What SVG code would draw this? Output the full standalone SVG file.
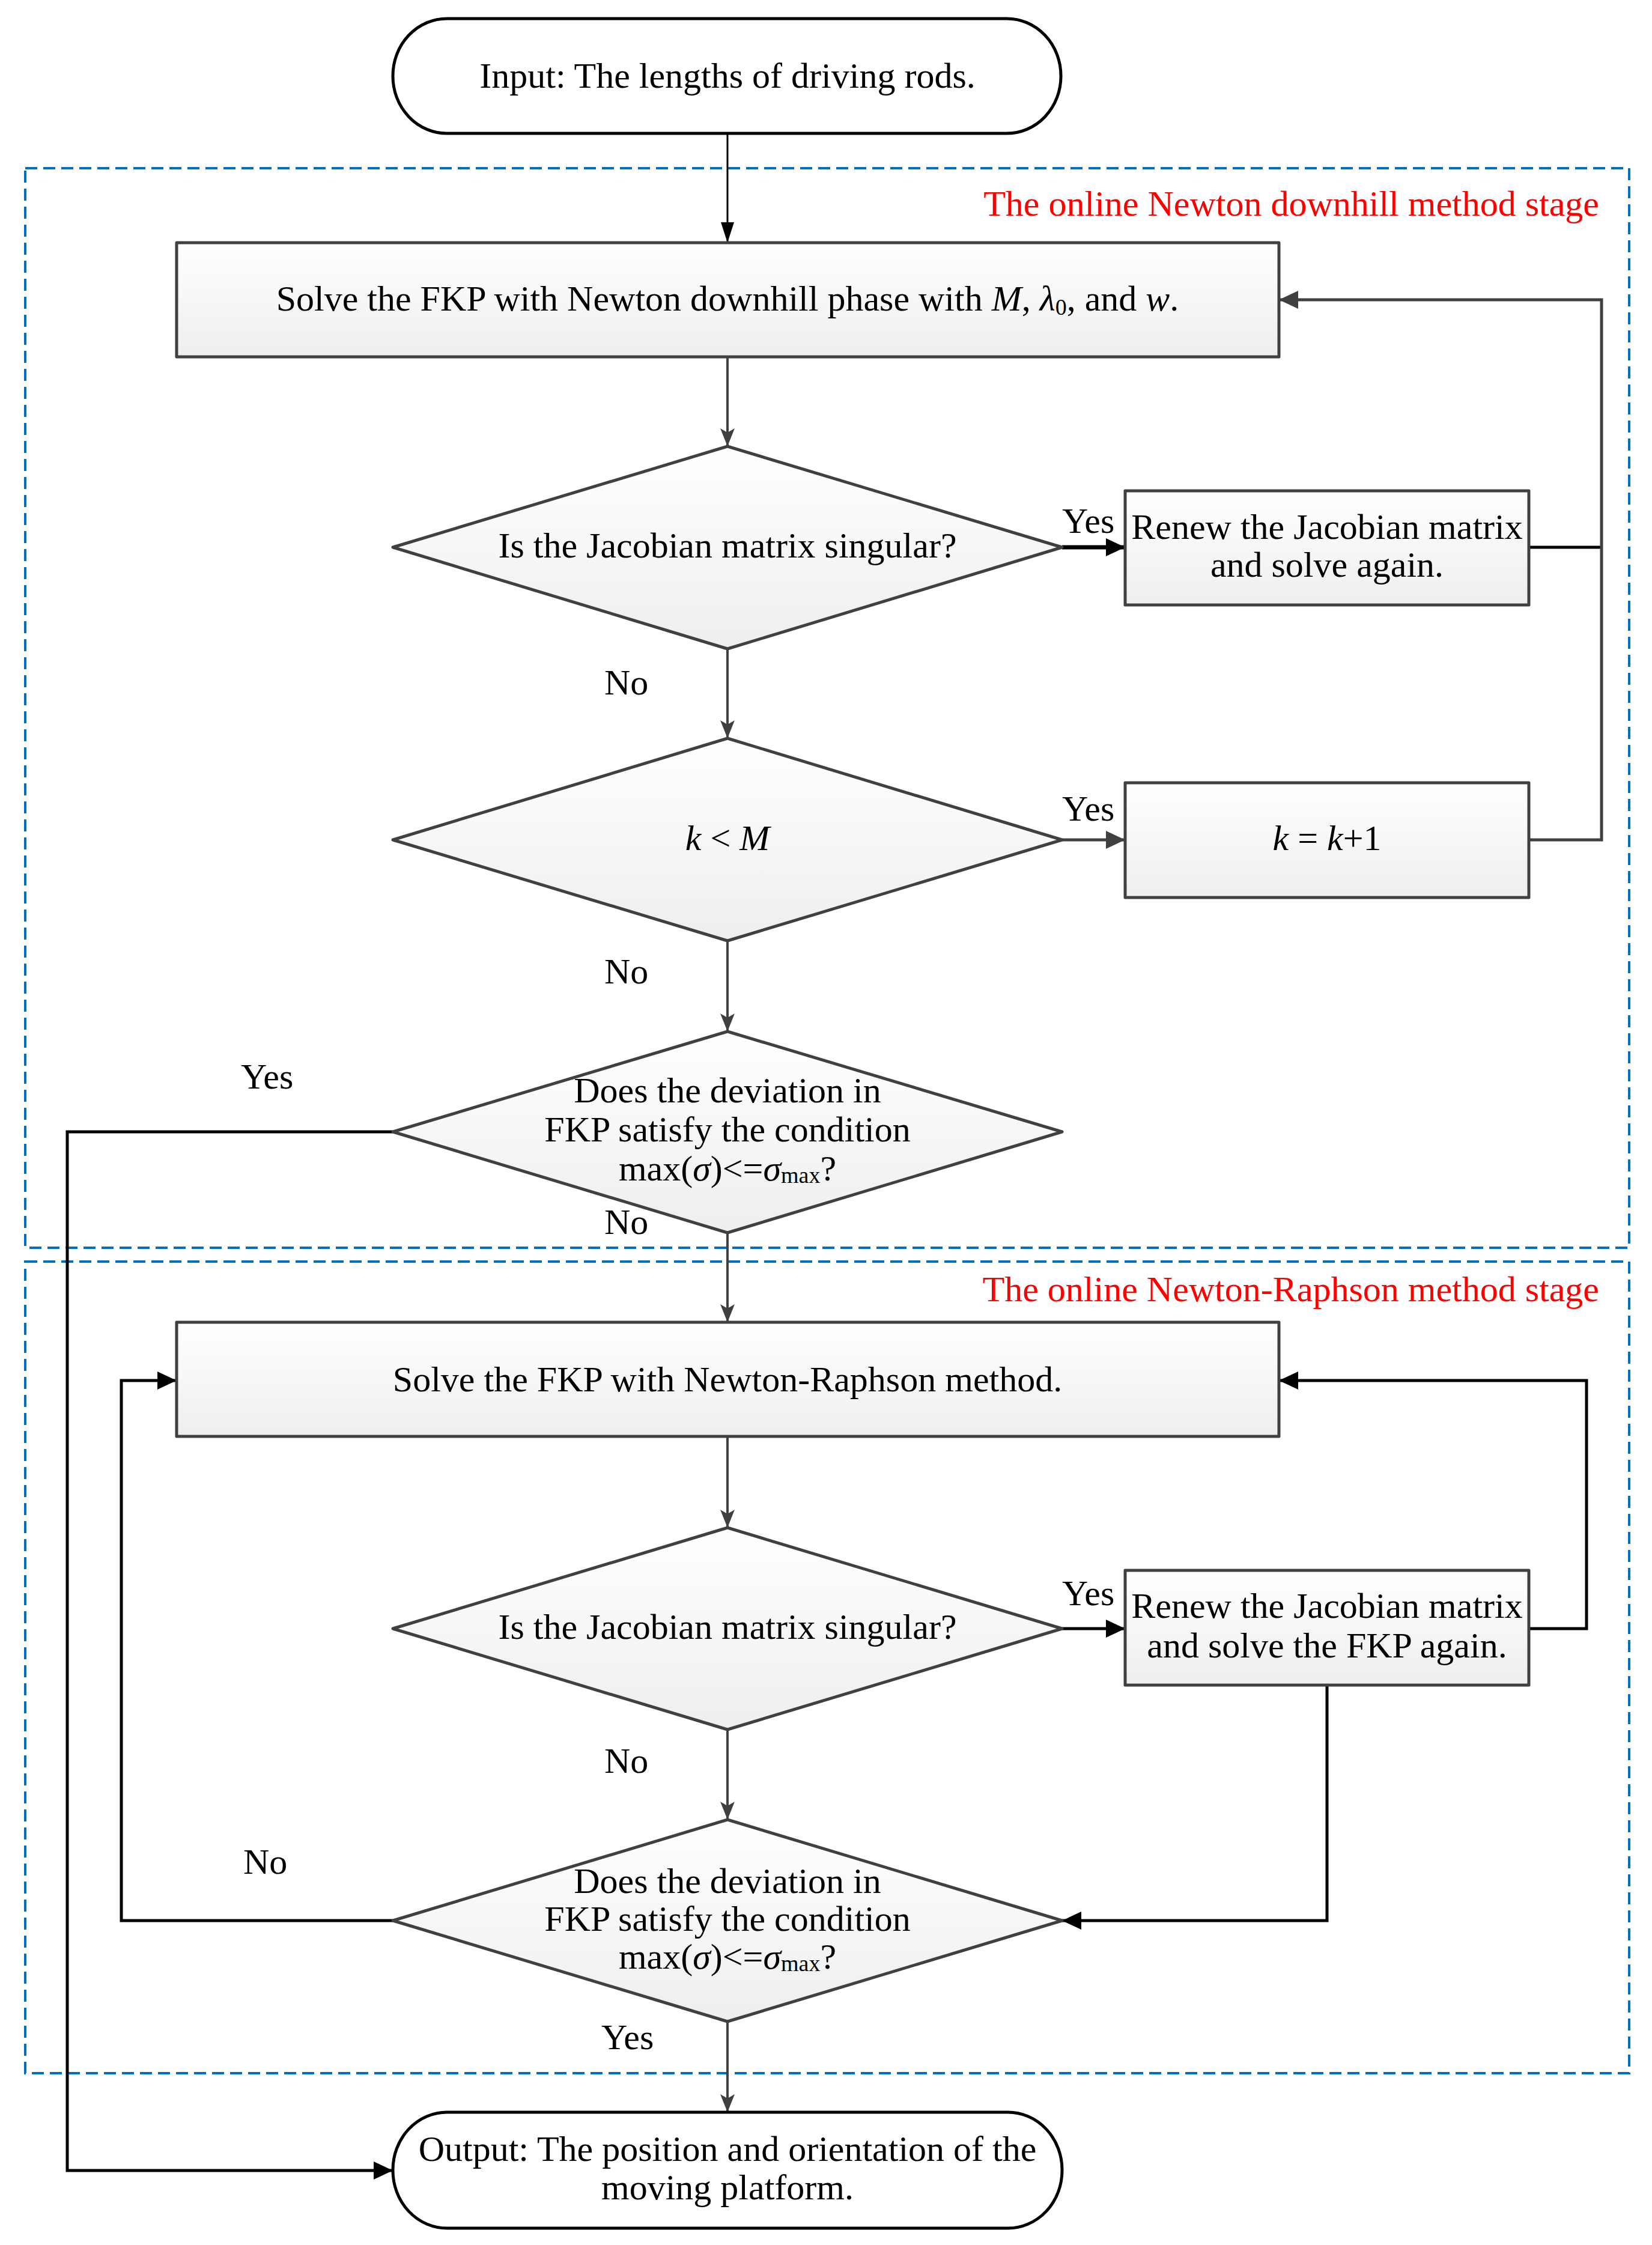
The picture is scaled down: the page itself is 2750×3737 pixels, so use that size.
<svg xmlns="http://www.w3.org/2000/svg" width="2750" height="3737" viewBox="0 0 2750 3737">
<defs>
  <linearGradient id="fillGrad" x1="0" y1="0" x2="0" y2="1">
    <stop offset="0" stop-color="#ffffff"/>
    <stop offset="1" stop-color="#eeeeee"/>
  </linearGradient>
  <marker id="arrGray" markerUnits="userSpaceOnUse" markerWidth="32" markerHeight="26" refX="30" refY="12" orient="auto">
    <path d="M0,0 L30,12 L0,24 L7,12 Z" fill="#404040"/>
  </marker>
  <marker id="arrGrayFill" markerUnits="userSpaceOnUse" markerWidth="34" markerHeight="32" refX="32" refY="15" orient="auto">
    <path d="M0,0 L32,15 L0,30 Z" fill="#404040"/>
  </marker>
  <marker id="arrBlack" markerUnits="userSpaceOnUse" markerWidth="34" markerHeight="32" refX="32" refY="15" orient="auto">
    <path d="M0,0 L32,15 L0,30 Z" fill="#000000"/>
  </marker>
  <marker id="arrInput" markerUnits="userSpaceOnUse" markerWidth="36" markerHeight="24" refX="34" refY="11" orient="auto">
    <path d="M0,0 L34,11 L0,22 Z" fill="#000000"/>
  </marker>
  <style>
    text { font-family: "Liberation Serif", "Times New Roman", serif; font-size: 60px; fill: #000; }
    .mid { text-anchor: middle; }
    .red { fill: #ff0000; text-anchor: end; }
    .it { font-style: italic; }
    .sub { font-size: 38px; }
    .node { fill: url(#fillGrad); stroke: #404040; stroke-width: 5; stroke-linejoin: round; }
    .term { fill: #ffffff; stroke: #000000; stroke-width: 5; }
    .stage { fill: none; stroke: #0070c0; stroke-width: 4; stroke-dasharray: 20 10; }
    .cg { fill: none; stroke: #404040; stroke-width: 4; }
    .cgt { fill: none; stroke: #404040; stroke-width: 5; }
    .cb { fill: none; stroke: #000000; stroke-width: 5; }
  </style>
</defs>

<g id="stages">
  <rect class="stage" x="42" y="280" width="2670" height="1797"/>
  <text class="red" x="2662" y="359">The online Newton downhill method stage</text>
  <rect class="stage" x="42" y="2100" width="2670" height="1351"/>
  <text class="red" x="2662" y="2166">The online Newton-Raphson method stage</text>
</g>

<g id="connectors">
  <line class="cb" style="stroke-width:3" x1="1211" y1="222" x2="1211" y2="404" marker-end="url(#arrInput)"/>
  <line class="cg" x1="1211" y1="594" x2="1211" y2="743" marker-end="url(#arrGray)"/>
  <line class="cb" style="stroke-width:7" x1="1768" y1="911" x2="1873" y2="911" marker-end="url(#arrBlack)"/>
  <line class="cb" x1="2545" y1="911" x2="2666" y2="911"/>
  <polyline class="cgt" points="2545,1398 2666,1398 2666,499 2129,499" marker-end="url(#arrGrayFill)"/>
  <line class="cg" x1="1211" y1="1080" x2="1211" y2="1229" marker-end="url(#arrGray)"/>
  <line class="cgt" x1="1768" y1="1398" x2="1873" y2="1398" marker-end="url(#arrGrayFill)"/>
  <line class="cg" x1="1211" y1="1566" x2="1211" y2="1717" marker-end="url(#arrGray)"/>
  <polyline class="cb" points="654,1884 112,1884 112,3613 654,3613" marker-end="url(#arrBlack)"/>
  <line class="cg" x1="1211" y1="2052" x2="1211" y2="2201" marker-end="url(#arrGray)"/>
  <line class="cg" x1="1211" y1="2391" x2="1211" y2="2543" marker-end="url(#arrGray)"/>
  <line class="cb" x1="1768" y1="2711" x2="1873" y2="2711" marker-end="url(#arrBlack)"/>
  <polyline class="cb" points="2545,2711 2641,2711 2641,2298 2129,2298" marker-end="url(#arrBlack)"/>
  <polyline class="cb" points="2209,2805 2209,3197 1768,3197" marker-end="url(#arrBlack)"/>
  <line class="cg" x1="1211" y1="2879" x2="1211" y2="3029" marker-end="url(#arrGray)"/>
  <polyline class="cb" points="654,3197 202,3197 202,2298 294,2298" marker-end="url(#arrBlack)"/>
  <line class="cg" x1="1211" y1="3365" x2="1211" y2="3516" marker-end="url(#arrGray)"/>
  <text x="1768" y="887">Yes</text>
  <text x="1006" y="1156">No</text>
  <text x="1768" y="1366">Yes</text>
  <text x="1006" y="1637">No</text>
  <text x="401" y="1812">Yes</text>
  <text x="1006" y="2054">No</text>
  <text x="1768" y="2672">Yes</text>
  <text x="1006" y="2951">No</text>
  <text x="405" y="3119">No</text>
  <text x="1001" y="3411">Yes</text>
</g>

<g id="input">
  <rect class="term" x="654" y="31" width="1112" height="191" rx="90" ry="95"/>
  <text class="mid" x="1211" y="146">Input: The lengths of driving rods.</text>
</g>

<g id="solve-downhill">
  <rect class="node" x="294" y="404" width="1835" height="190"/>
  <text class="mid" x="1211" y="517">Solve the FKP with Newton downhill phase with <tspan class="it">M</tspan>, <tspan class="it">λ</tspan><tspan class="sub" dy="7">0</tspan><tspan dy="-7">, and </tspan><tspan class="it">w</tspan>.</text>
</g>

<g id="singular-1">
  <polygon class="node" points="1211,743 1768,911 1211,1080 654,911"/>
  <text class="mid" x="1211" y="928">Is the Jacobian matrix singular?</text>
</g>

<g id="renew-1">
  <rect class="node" x="1873" y="817" width="672" height="190"/>
  <text class="mid" x="2209" y="897">Renew the Jacobian matrix</text>
  <text class="mid" x="2209" y="960">and solve again.</text>
</g>

<g id="k-less-M">
  <polygon class="node" points="1211,1229 1768,1398 1211,1566 654,1398"/>
  <text class="mid" x="1211" y="1415"><tspan class="it">k</tspan> &lt; <tspan class="it">M</tspan></text>
</g>

<g id="k-increment">
  <rect class="node" x="1873" y="1303" width="672" height="191"/>
  <text class="mid" x="2209" y="1415"><tspan class="it">k</tspan> = <tspan class="it">k</tspan>+1</text>
</g>

<g id="deviation-1">
  <polygon class="node" points="1211,1717 1768,1884 1211,2052 654,1884"/>
  <text class="mid" x="1211" y="1835">Does the deviation in</text>
  <text class="mid" x="1211" y="1900">FKP satisfy the condition</text>
  <text class="mid" x="1211" y="1965">max(<tspan class="it">σ</tspan>)&lt;=<tspan class="it">σ</tspan><tspan class="sub" dy="4">max</tspan><tspan dy="-4">?</tspan></text>
</g>

<g id="solve-nr">
  <rect class="node" x="294" y="2201" width="1835" height="190"/>
  <text class="mid" x="1211" y="2316">Solve the FKP with Newton-Raphson method.</text>
</g>

<g id="singular-2">
  <polygon class="node" points="1211,2543 1768,2711 1211,2879 654,2711"/>
  <text class="mid" x="1211" y="2728">Is the Jacobian matrix singular?</text>
</g>

<g id="renew-2">
  <rect class="node" x="1873" y="2614" width="672" height="191"/>
  <text class="mid" x="2209" y="2693">Renew the Jacobian matrix</text>
  <text class="mid" x="2209" y="2759">and solve the FKP again.</text>
</g>

<g id="deviation-2">
  <polygon class="node" points="1211,3029 1768,3197 1211,3365 654,3197"/>
  <text class="mid" x="1211" y="3151">Does the deviation in</text>
  <text class="mid" x="1211" y="3214">FKP satisfy the condition</text>
  <text class="mid" x="1211" y="3277">max(<tspan class="it">σ</tspan>)&lt;=<tspan class="it">σ</tspan><tspan class="sub" dy="4">max</tspan><tspan dy="-4">?</tspan></text>
</g>

<g id="output">
  <rect class="term" x="654" y="3516" width="1114" height="193" rx="90" ry="96"/>
  <text class="mid" x="1211" y="3597">Output: The position and orientation of the</text>
  <text class="mid" x="1211" y="3661">moving platform.</text>
</g>
</svg>
